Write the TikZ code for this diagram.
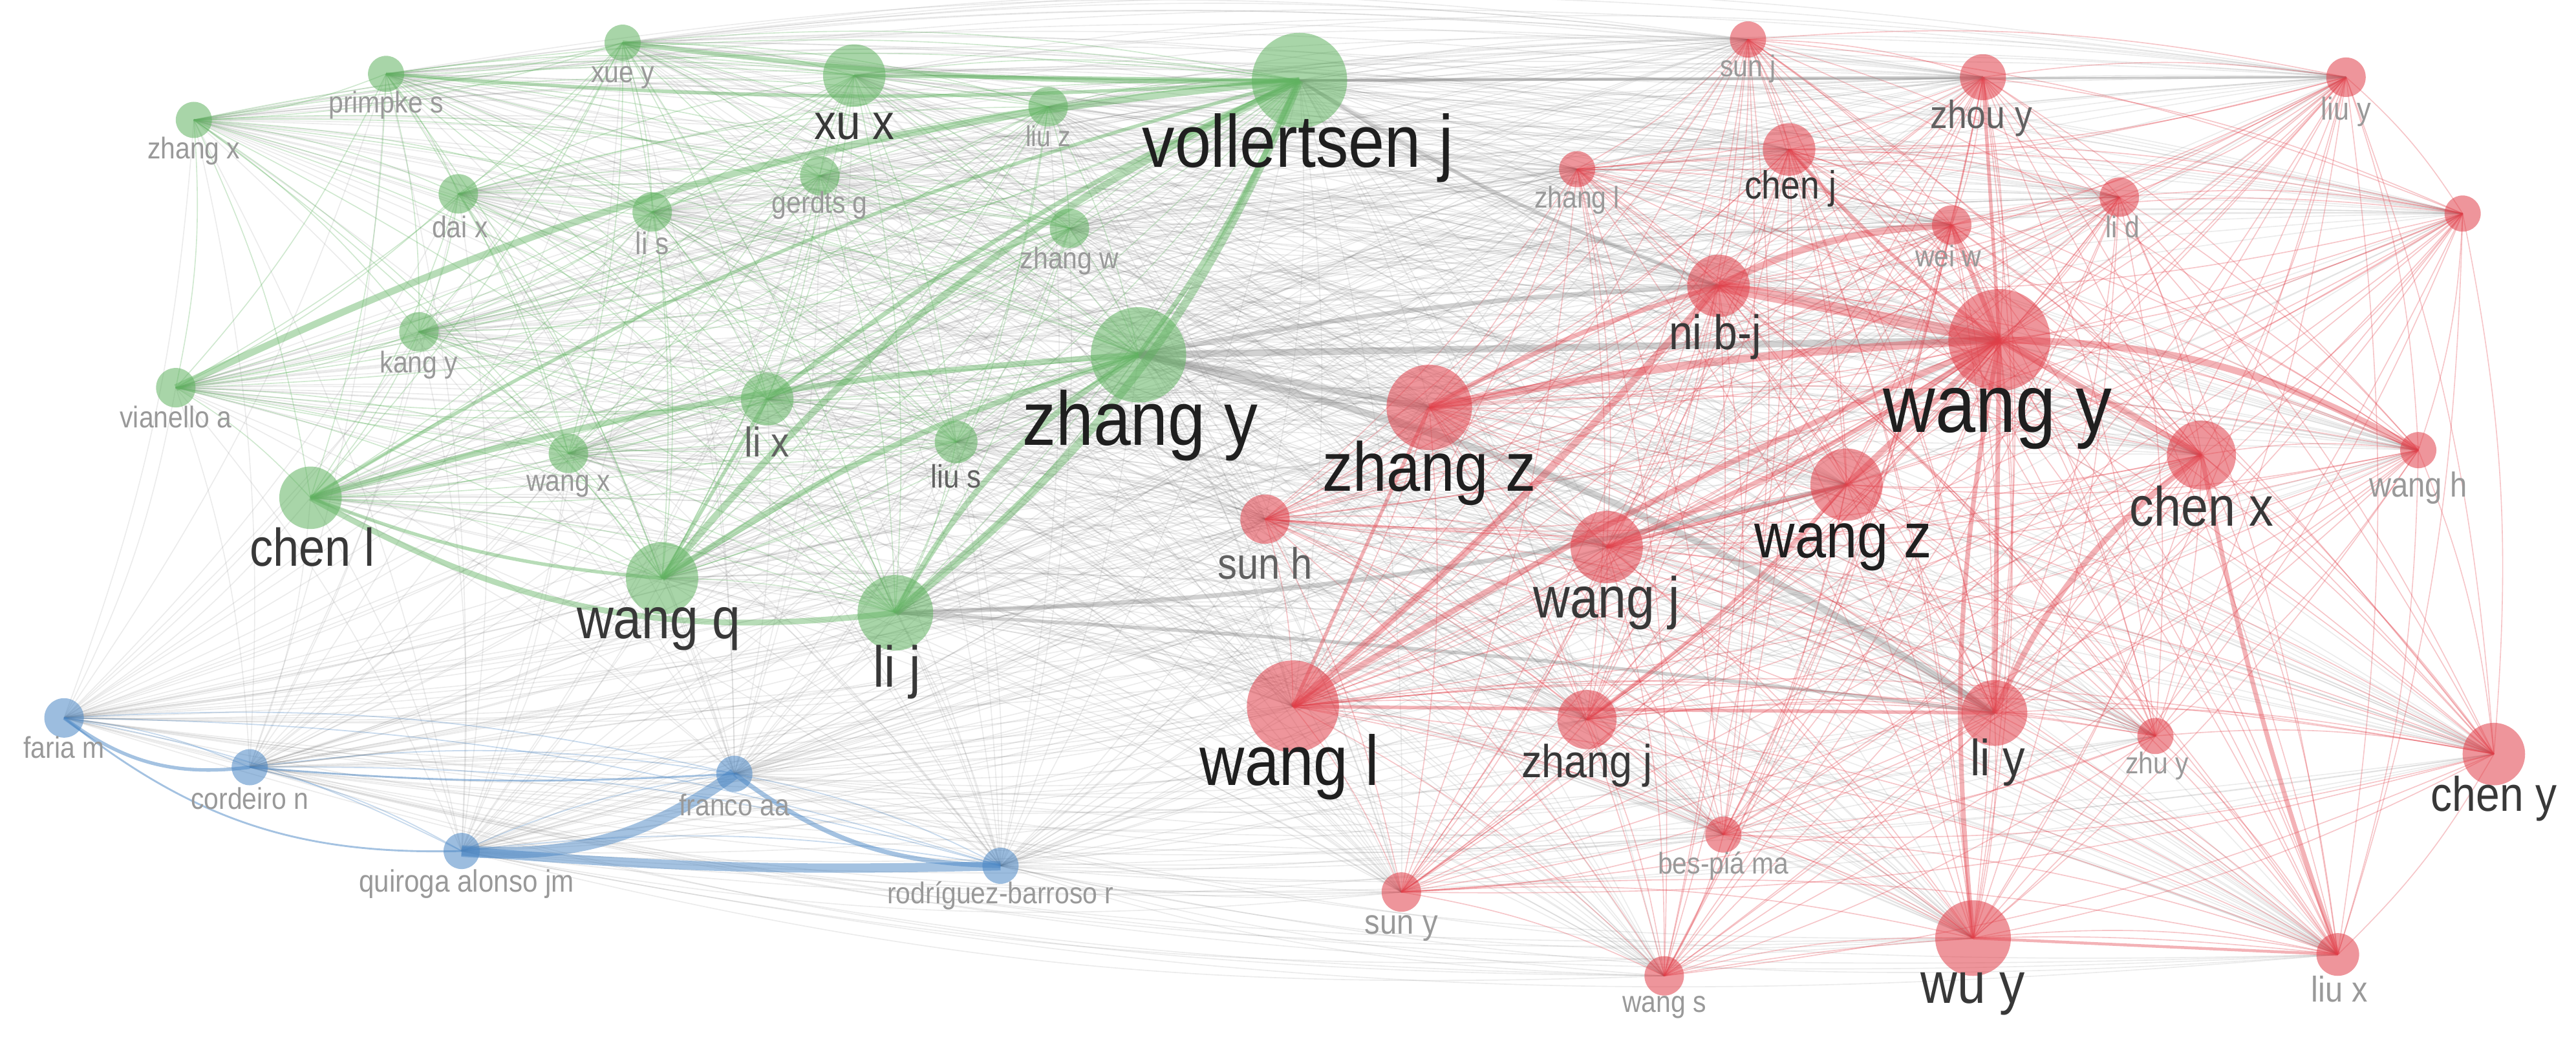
\documentclass[tikz,border=0pt]{standalone}
\usepackage{fontspec}
\setmainfont{Liberation Sans}[FakeStretch=0.88]
\usetikzlibrary{backgrounds}

\definecolor{clgreen}{RGB}{96,178,96}
\definecolor{clred}{RGB}{224,62,72}
\definecolor{clblue}{RGB}{74,134,196}

\tikzset{
  author/.style={circle, inner sep=0pt, minimum size=#1*0.02cm, fill opacity=.55},
  gauthor/.style={author=#1, fill=clgreen},
  rauthor/.style={author=#1, fill=clred},
  bauthor/.style={author=#1, fill=clblue},
  lbl/.style={inner sep=0pt, font=\fontsize{#1}{#1}\selectfont},
  tbig/.style={text=black!88},
  tmid/.style={text=black!78},
  tlow/.style={text=black!62},
  tsml/.style={text=black!40},
  xlink/.style={draw=black!60, draw opacity=.13, line width=.18pt},
  glink/.style={draw=clgreen, draw opacity=.3, line width=.18pt},
  rlink/.style={draw=clred, draw opacity=.3, line width=.18pt},
  blink/.style={draw=clblue, draw opacity=.3, line width=.2pt},
  heavy/.style={line width=#1, draw opacity=.45},
}

\def\grnlist{xuey,primpkes,zhangx,daix,lis,gerdtsg,xux,liuz,zhangw,vollertsenj,zhangy,lix,lius,kangy,vianelloa,wangx,chenl,wangq,lij}
\def\redlist{sunj,zhouy,liuy,zhangl,chenj,weiw,lid,anon,nibj,wangy,zhangz,chenx,wangh,wangz,sunh,wangj,wangl,zhangj,liy,zhuy,cheny,bespia,suny,wangs,wuy,liux}
\def\blulist{fariam,cordeiron,quiroga,francoaa,rodriguez}

\begin{document}
\begin{tikzpicture}[x=0.01cm, y=-0.01cm]
    \useasboundingbox (0,0) rectangle (1568,640);

    % Cluster verde
    \node[gauthor=11] (xuey) at (379,26) {};
    \node[gauthor=11] (primpkes) at (235,45) {};
    \node[gauthor=11] (zhangx) at (118,73) {};
    \node[gauthor=12] (daix) at (279,118) {};
    \node[gauthor=12] (lis) at (397,129) {};
    \node[gauthor=12] (gerdtsg) at (499,107) {};
    \node[gauthor=19] (xux) at (520,46) {};
    \node[gauthor=12] (liuz) at (638,65) {};
    \node[gauthor=12] (zhangw) at (651,139) {};
    \node[gauthor=29] (vollertsenj) at (791,49) {};
    \node[gauthor=29] (zhangy) at (693,216) {};
    \node[gauthor=16] (lix) at (467,243) {};
    \node[gauthor=13] (lius) at (582,269) {};
    \node[gauthor=12] (kangy) at (255,202) {};
    \node[gauthor=12] (vianelloa) at (107,236) {};
    \node[gauthor=12] (wangx) at (346,276) {};
    \node[gauthor=19] (chenl) at (189,303) {};
    \node[gauthor=22] (wangq) at (403,352) {};
    \node[gauthor=23] (lij) at (545,373) {};

    % Cluster rosso
    \node[rauthor=11] (sunj) at (1064,24) {};
    \node[rauthor=14] (zhouy) at (1207,47) {};
    \node[rauthor=12] (liuy) at (1428,47) {};
    \node[rauthor=11] (zhangl) at (960,103) {};
    \node[rauthor=16] (chenj) at (1089,91) {};
    \node[rauthor=12] (weiw) at (1188,137) {};
    \node[rauthor=12] (lid) at (1290,120) {};
    \node[rauthor=11] (anon) at (1499,130) {};
    \node[rauthor=19] (nibj) at (1046,174) {};
    \node[rauthor=31] (wangy) at (1217,207) {};
    \node[rauthor=26] (zhangz) at (870,248) {};
    \node[rauthor=21] (chenx) at (1340,277) {};
    \node[rauthor=11] (wangh) at (1472,274) {};
    \node[rauthor=22] (wangz) at (1124,295) {};
    \node[rauthor=15] (sunh) at (770,316) {};
    \node[rauthor=22] (wangj) at (978,333) {};
    \node[rauthor=28] (wangl) at (787,430) {};
    \node[rauthor=18] (zhangj) at (966,438) {};
    \node[rauthor=20] (liy) at (1214,434) {};
    \node[rauthor=11] (zhuy) at (1312,448) {};
    \node[rauthor=19] (cheny) at (1518,459) {};
    \node[rauthor=11] (bespia) at (1049,508) {};
    \node[rauthor=12] (suny) at (853,543) {};
    \node[rauthor=12] (wangs) at (1013,594) {};
    \node[rauthor=23] (wuy) at (1201,571) {};
    \node[rauthor=13] (liux) at (1423,581) {};

    % Cluster blu
    \node[bauthor=12] (fariam) at (39,437) {};
    \node[bauthor=11] (cordeiron) at (152,467) {};
    \node[bauthor=11] (quiroga) at (281,518) {};
    \node[bauthor=11] (francoaa) at (447,471) {};
    \node[bauthor=11] (rodriguez) at (609,527) {};

    \begin{scope}[on background layer]
        % Collegamenti tra cluster
        \foreach \a in \grnlist {
            \foreach \b in \redlist {\draw[xlink] (\a.center) to[bend left=8] (\b.center);}
            \foreach \b in \blulist {\draw[xlink] (\a.center) to[bend left=8] (\b.center);}
        }
        \foreach \a in \redlist {
            \foreach \b in \blulist {\draw[xlink] (\a.center) to[bend left=8] (\b.center);}
        }

        % Collegamenti interni
        \foreach \a [count=\i] in \grnlist {
            \foreach \b [count=\j] in \grnlist {
                \ifnum\j>\i \draw[glink] (\a.center) to[bend left=8] (\b.center); \fi
            }
        }
        \foreach \a [count=\i] in \redlist {
            \foreach \b [count=\j] in \redlist {
                \ifnum\j>\i \draw[rlink] (\a.center) to[bend left=8] (\b.center); \fi
            }
        }
        \foreach \a [count=\i] in \blulist {
            \foreach \b [count=\j] in \blulist {
                \ifnum\j>\i \draw[blink] (\a.center) to[bend left=8] (\b.center); \fi
            }
        }

        % Collegamenti forti
        \foreach \a/\b/\w/\c in {zhangy/wangy/1.2pt/0, zhangy/nibj/.8pt/4, vollertsenj/zhouy/.5pt/0,
            vollertsenj/liuy/.4pt/0, lij/liy/.6pt/2, lij/wangz/.8pt/-6, zhangy/liy/1.2pt/10,
            vollertsenj/nibj/.6pt/-6, zhangy/zhangz/1pt/0}
            \draw[heavy=\w, draw=black!45, draw opacity=.4] (\a.center) to[bend left=\c] (\b.center);
        \foreach \a/\b/\w/\c in {vianelloa/vollertsenj/1.2pt/10, chenl/lij/1pt/-18, chenl/zhangy/1pt/6,
            chenl/vollertsenj/.6pt/8, wangq/vollertsenj/1.2pt/12, wangq/zhangy/1pt/8,
            lij/vollertsenj/1.4pt/-14, lij/zhangy/1pt/14, xuey/vollertsenj/.8pt/-4,
            primpkes/vollertsenj/.6pt/-4, lix/vollertsenj/.8pt/6, zhangy/vollertsenj/.8pt/-6,
            xux/vollertsenj/.6pt/0, wangq/lix/.6pt/0, chenl/wangq/.6pt/-8}
            \draw[heavy=\w, draw=clgreen] (\a.center) to[bend left=\c] (\b.center);
        \foreach \a/\b/\w/\c in {nibj/wangy/2pt/0, nibj/weiw/1.2pt/12, zhangz/wangy/1.4pt/4,
            wangl/nibj/1.2pt/-4, wangl/wangy/1pt/4, wangy/wangh/1.2pt/14, chenx/liy/1pt/-14,
            chenx/liux/.8pt/-4, wangz/wangy/1pt/0, wangj/wangy/.8pt/-6, liy/wangy/.8pt/0,
            wuy/wangy/.8pt/8, zhangz/nibj/.8pt/6, wangl/liy/.6pt/0, wangl/zhangz/.6pt/0,
            wangy/chenx/1pt/0, weiw/wangy/.8pt/0, wangj/wangz/.6pt/0, zhangj/wangz/.6pt/-6,
            chenj/wangy/.6pt/-6, zhouy/wangy/.6pt/0, wuy/liux/.5pt/0}
            \draw[heavy=\w, draw=clred, draw opacity=.4] (\a.center) to[bend left=\c] (\b.center);
        \foreach \a/\b/\w/\c in {quiroga/francoaa/2pt/-20, quiroga/rodriguez/1.6pt/-3,
            francoaa/rodriguez/.8pt/-18, fariam/cordeiron/.6pt/-22, fariam/quiroga/.32pt/-20,
            cordeiron/francoaa/.32pt/-4}
            \draw[heavy=\w, draw=clblue, draw opacity=.5] (\a.center) to[bend left=\c] (\b.center);
    \end{scope}

    % Etichette verdi
    \node[lbl=5.2, tsml] (xuey-t) at (379,47) {xue y};
    \node[lbl=5.2, tsml] (primpkes-t) at (235,64) {primpke s};
    \node[lbl=5.2, tsml] (zhangx-t) at (118,92) {zhang x};
    \node[lbl=5.2, tsml] (daix-t) at (280,138) {dai x};
    \node[lbl=5.4, tsml] (lis-t) at (397,148) {li s};
    \node[lbl=5.2, tsml] (gerdtsg-t) at (499,125) {gerdts g};
    \node[lbl=8.6, tmid] (xux-t) at (520,77) {xu x};
    \node[lbl=5, tsml] (liuz-t) at (638,83) {liu z};
    \node[lbl=5.2, tsml] (zhangw-t) at (651,159) {zhang w};
    \node[lbl=12.8, tbig] (vollertsenj-t) at (790,90) {vollertsen j};
    \node[lbl=13.2, tbig] (zhangy-t) at (694,259) {zhang y};
    \node[lbl=7.2, tlow] (lix-t) at (467,269) {li x};
    \node[lbl=5.6, tlow] (lius-t) at (582,290) {liu s};
    \node[lbl=5.2, tsml] (kangy-t) at (255,222) {kang y};
    \node[lbl=5.2, tsml] (vianelloa-t) at (107,254) {vianello a};
    \node[lbl=5.2, tsml] (wangx-t) at (346,296) {wang x};
    \node[lbl=9.2, tmid] (chenl-t) at (190,333) {chen l};
    \node[lbl=10, tmid] (wangq-t) at (401,383) {wang q};
    \node[lbl=10, tmid] (lij-t) at (546,409) {li j};

    % Etichette rosse
    \node[lbl=5.2, tsml] (sunj-t) at (1064,42) {sun j};
    \node[lbl=6.8, tlow] (zhouy-t) at (1206,72) {zhou y};
    \node[lbl=5.5, tsml] (liuy-t) at (1428,68) {liu y};
    \node[lbl=5.2, tsml] (zhangl-t) at (960,122) {zhang l};
    \node[lbl=6.8, tmid] (chenj-t) at (1090,115) {chen j};
    \node[lbl=5.2, tsml] (weiw-t) at (1186,156) {wei w};
    \node[lbl=5.2, tsml] (lid-t) at (1292,138) {li d};
    \node[lbl=8.4, tmid] (nibj-t) at (1044,205) {ni b-j};
    \node[lbl=14.2, tbig] (wangy-t) at (1216,255) {wang y};
    \node[lbl=12, tbig] (zhangz-t) at (870,288) {zhang z};
    \node[lbl=9.6, tmid] (chenx-t) at (1340,308) {chen x};
    \node[lbl=6, tsml] (wangh-t) at (1472,297) {wang h};
    \node[lbl=11, tbig] (wangz-t) at (1122,333) {wang z};
    \node[lbl=7.6, tlow] (sunh-t) at (770,343) {sun h};
    \node[lbl=10, tmid] (wangj-t) at (978,367) {wang j};
    \node[lbl=12.2, tbig] (wangl-t) at (785,467) {wang l};
    \node[lbl=8, tmid] (zhangj-t) at (966,466) {zhang j};
    \node[lbl=8.8, tmid] (liy-t) at (1216,464) {li y};
    \node[lbl=5.2, tsml] (zhuy-t) at (1313,466) {zhu y};
    \node[lbl=8.4, tmid] (cheny-t) at (1518,486) {chen y};
    \node[lbl=5.2, tsml] (bespia-t) at (1049,527) {bes-piá ma};
    \node[lbl=6, tsml] (suny-t) at (853,565) {sun y};
    \node[lbl=5.2, tsml] (wangs-t) at (1013,613) {wang s};
    \node[lbl=10, tmid] (wuy-t) at (1201,605) {wu y};
    \node[lbl=6.2, tsml] (liux-t) at (1424,602) {liu x};

    % Etichette blu
    \node[lbl=5.2, tsml] (fariam-t) at (39,455) {faria m};
    \node[lbl=5.2, tsml] (cordeiron-t) at (152,486) {cordeiro n};
    \node[lbl=5.36, tsml] (quiroga-t) at (284,538) {quiroga alonso jm};
    \node[lbl=5.2, tsml] (francoaa-t) at (447,490) {franco aa};
    \node[lbl=5.2, tsml] (rodriguez-t) at (609,545) {rodríguez-barroso r};
\end{tikzpicture}
\end{document}
